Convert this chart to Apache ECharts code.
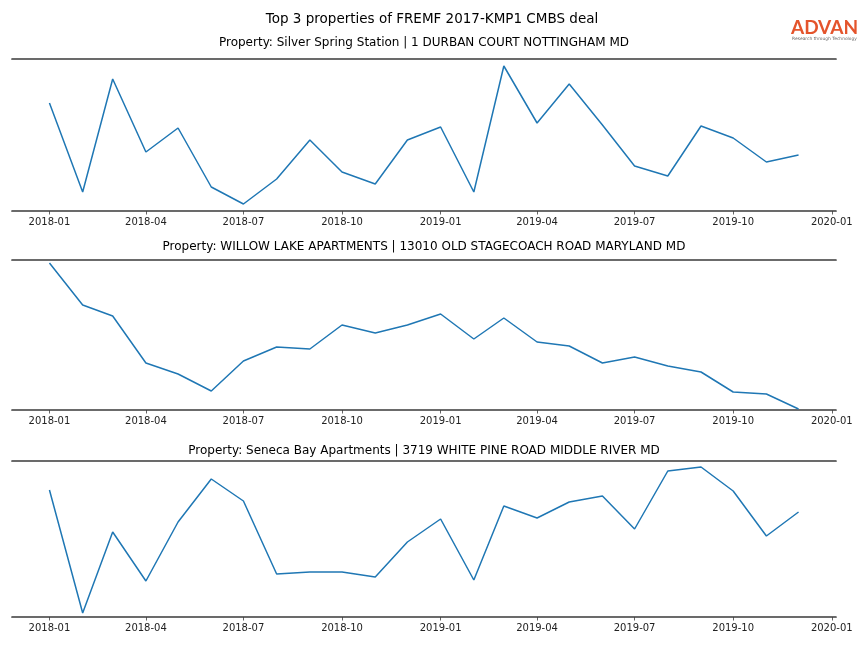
<!DOCTYPE html>
<html>
<head>
<meta charset="utf-8">
<script src="https://cdn.jsdelivr.net/npm/echarts@6/dist/echarts.min.js"></script>
<style>html,body{margin:0;padding:0;background:#fff}#c{width:864px;height:648px}</style>
</head>
<body>
<div id="c"></div>
<script>
const months = ['2018-01','2018-02','2018-03','2018-04','2018-05','2018-06','2018-07','2018-08','2018-09','2018-10','2018-11','2018-12',
                '2019-01','2019-02','2019-03','2019-04','2019-05','2019-06','2019-07','2019-08','2019-09','2019-10','2019-11','2019-12'];
const tickMonths = ['2018-01','2018-04','2018-07','2018-10','2019-01','2019-04','2019-07','2019-10','2020-01'];

const mainTitle = 'Top 3 properties of FREMF 2017-KMP1 CMBS deal';
const panelTitles = [
  'Property: Silver Spring Station | 1 DURBAN COURT NOTTINGHAM MD',
  'Property: WILLOW LAKE APARTMENTS | 13010 OLD STAGECOACH ROAD MARYLAND MD',
  'Property: Seneca Bay Apartments | 3719 WHITE PINE ROAD MIDDLE RIVER MD'
];
const silverSpring = [108, 19, 132, 59, 83, 24, 7, 32, 71, 39, 27, 71, 84, 19, 145, 88, 127, 86, 45, 35, 85, 73, 49, 56];
const willowLake   = [147, 105, 94, 47, 36, 19, 49, 63, 61, 85, 77, 85, 96, 71, 92, 68, 64, 47, 53, 44, 38, 18, 16, 1];
const senecaBay    = [127, 4, 85, 36, 95, 138, 116, 43, 45, 45, 40, 75, 98, 37, 111, 99, 115, 121, 88, 146, 150, 126, 81, 105];
const yMax = [152, 150, 156];

const series = [silverSpring, willowLake, senecaBay];
const toTs = s => { const [y, m] = s.split('-').map(Number); return Date.UTC(y, m - 1, 1); };
const fmt = v => { const d = new Date(v); return d.getUTCFullYear() + '-' + String(d.getUTCMonth() + 1).padStart(2, '0'); };
const first = toTs(months[0]), last = toTs(months[months.length - 1]);
const span = last - first;
const xMin = first - 0.05 * span, xMax = last + 0.05 * span;
const tickVals = tickMonths.map(toTs);

const grids = [
  {left: 12, right: 28, top: 59, height: 152},
  {left: 12, right: 28, top: 260, height: 150},
  {left: 12, right: 28, top: 461, height: 156}
];
const spine = {show: true, onZero: false, lineStyle: {color: '#3a3a3a', width: 1.7}};
const xAxes = [], yAxes = [], seriesOpt = [];
grids.forEach((g, i) => {
  xAxes.push({
    type: 'value', gridIndex: i, position: 'bottom', min: xMin, max: xMax,
    axisLine: spine,
    axisTick: {show: true, length: 3.5, lineStyle: {color: '#3d3d3d', width: 0.8}, customValues: tickVals},
    axisLabel: {show: true, margin: 6.5, fontSize: 10, color: '#222', fontFamily: 'DejaVu Sans',
      customValues: tickVals, formatter: v => fmt(v), showMinLabel: true, showMaxLabel: true},
    splitLine: {show: false}
  });
  xAxes.push({
    type: 'value', gridIndex: i, position: 'top', min: xMin, max: xMax,
    axisLine: spine, axisTick: {show: false}, axisLabel: {show: false}, splitLine: {show: false}
  });
  yAxes.push({type: 'value', gridIndex: i, min: 0, max: yMax[i], show: false, splitLine: {show: false}});
  seriesOpt.push({
    type: 'line', xAxisIndex: i * 2, yAxisIndex: i, showSymbol: false, symbol: 'none',
    lineStyle: {color: '#1f77b4', width: 1.5}, animation: false,
    data: months.map((m, k) => [toTs(m), series[i][k]])
  });
});

const graphics = [
  {type: 'text', x: 432, y: 19.5, style: {text: mainTitle, textAlign: 'center', textVerticalAlign: 'middle', fontFamily: 'DejaVu Sans', fontSize: 13.5, fill: '#000'}},
  {type: 'text', x: 424, y: 42.5, style: {text: panelTitles[0], textAlign: 'center', textVerticalAlign: 'middle', fontFamily: 'DejaVu Sans', fontSize: 12, fill: '#000'}},
  {type: 'text', x: 424, y: 246.5, style: {text: panelTitles[1], textAlign: 'center', textVerticalAlign: 'middle', fontFamily: 'DejaVu Sans', fontSize: 12, fill: '#000'}},
  {type: 'text', x: 424, y: 450.5, style: {text: panelTitles[2], textAlign: 'center', textVerticalAlign: 'middle', fontFamily: 'DejaVu Sans', fontSize: 12, fill: '#000'}},
  {type: 'text', x: 824.5, y: 27.5, style: {text: 'ADVAN', textAlign: 'center', textVerticalAlign: 'middle', fontFamily: 'Lato', fontWeight: 'bold', fontSize: 19, fill: '#e4542c'}},
  {type: 'text', x: 824.5, y: 38.5, style: {text: 'Research through Technology', textAlign: 'center', textVerticalAlign: 'middle', fontFamily: 'DejaVu Sans', fontSize: 4.4, fill: '#666'}}
];

const chart = echarts.init(document.getElementById('c'), null, {renderer: 'canvas'});
chart.setOption({
  animation: false,
  backgroundColor: '#fff',
  grid: grids,
  xAxis: xAxes,
  yAxis: yAxes,
  series: seriesOpt,
  graphic: graphics
});
</script>
</body>
</html>
